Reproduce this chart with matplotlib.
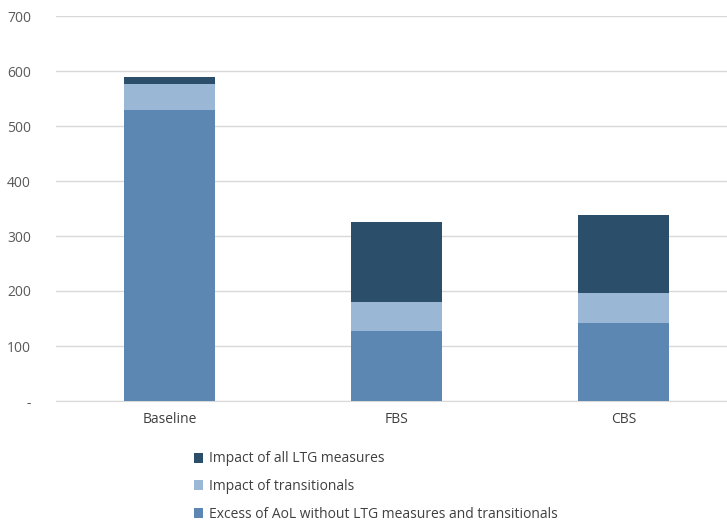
import numpy as np
import matplotlib.pyplot as plt

categories = ['Baseline', 'FBS', 'CBS']
excess = [530, 127, 141]
transitionals = [46, 53, 55]
ltg = [14, 145, 143]
y_ticks = [0, 100, 200, 300, 400, 500, 600, 700]
y_labels = ['-', '100', '200', '300', '400', '500', '600', '700']

c_excess = '#5B87B2'
c_trans = '#9AB7D6'
c_ltg = '#2B4E6B'

plt.rcParams['font.family'] = ['Open Sans', 'DejaVu Sans']

fig = plt.figure(figsize=(7.27, 5.25), dpi=100)
ax = fig.add_axes([56 / 727, 1 - 401 / 525, 1 - 56 / 727, 385 / 525])

x = np.arange(len(categories))
w = 0.4
b1 = ax.bar(x, excess, w, color=c_excess, label='Excess of AoL without LTG measures and transitionals', zorder=3)
b2 = ax.bar(x, transitionals, w, bottom=excess, color=c_trans, label='Impact of transitionals', zorder=3)
bottom2 = np.array(excess) + np.array(transitionals)
b3 = ax.bar(x, ltg, w, bottom=bottom2, color=c_ltg, label='Impact of all LTG measures', zorder=3)

ax.set_ylim(0, 700)
ax.set_xlim(-0.5, -0.5 + 671 / 227)
ax.set_yticks(y_ticks)
ax.set_yticklabels(y_labels)
ax.set_xticks(x)
ax.set_xticklabels(categories)
ax.tick_params(axis='both', length=0, labelsize=10, labelcolor='#595959')
ax.tick_params(axis='y', pad=18)
ax.tick_params(axis='x', pad=8, labelcolor='#404040')
ax.grid(axis='y', color='#D9D9D9', linewidth=1, zorder=0)
for s in ['top', 'right', 'left']:
    ax.spines[s].set_visible(False)
ax.spines['bottom'].set_color('#D9D9D9')

fig.legend(handles=[b3, b2, b1], loc='upper left', bbox_to_anchor=(181 / 727, 1 - 439 / 525),
           frameon=False, fontsize=10, handlelength=0.7, handleheight=0.7,
           handletextpad=0.45, labelspacing=0.9, labelcolor='#404040')

fig.savefig('out.png', dpi=100)
